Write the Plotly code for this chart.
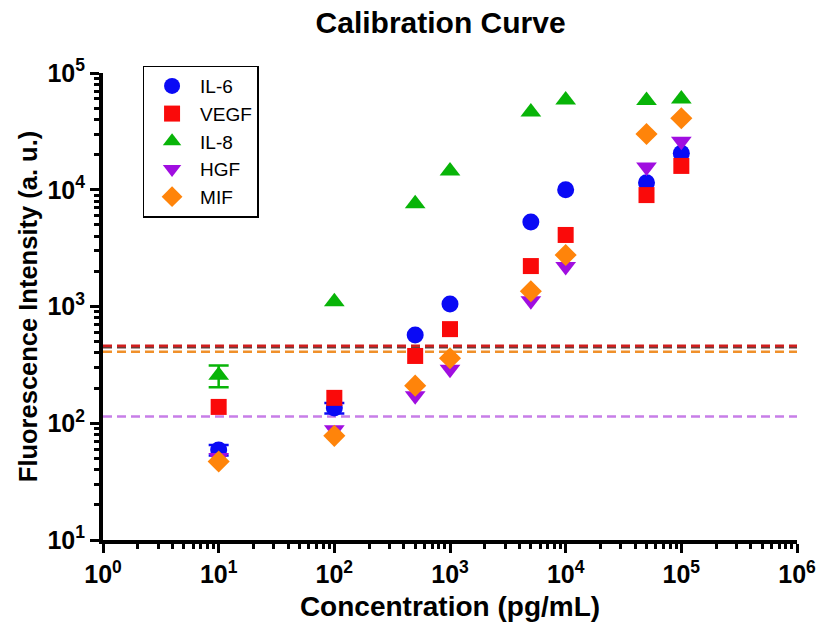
import plotly.graph_objects as go

# ---- data ----
conc = [10, 100, 500, 1000, 5000, 10000, 50000, 100000]
il6 = [59, 135, 570, 1050, 5300, 10000, 11500, 20500]
il6_err = [6, 14, 0, 0, 0, 0, 0, 0]
vegf = [138, 165, 377, 640, 2220, 4100, 9000, 16000]
vegf_err = [0, 0, 0, 0, 0, 0, 0, 0]
il8 = [258, 1100, 7600, 14500, 46300, 58700, 58000, 60000]
il8_err = [55, 0, 0, 0, 0, 0, 0, 0]
hgf = [51, 88, 172, 290, 1120, 2200, 15700, 26000]
hgf_err = [0, 0, 0, 0, 0, 0, 0, 0]
mif = [47, 78, 210, 360, 1350, 2760, 30000, 41000]
mif_err = [0, 0, 0, 0, 0, 0, 0, 0]

lod_names = ["IL-6 LOD", "VEGF LOD", "MIF LOD", "HGF LOD"]
lod_values = [448, 462, 410, 114]
lod_colors = ["#6b3e3a", "#d01e1e", "#f0902a", "#c77ee8"]
x_span = [1, 1e6]

x_tickvals = [1, 10, 100, 1000, 10000, 100000, 1000000]
x_ticktext = ["10<sup>0</sup>", "10<sup>1</sup>", "10<sup>2</sup>", "10<sup>3</sup>",
              "10<sup>4</sup>", "10<sup>5</sup>", "10<sup>6</sup>"]
y_tickvals = [10, 100, 1000, 10000, 100000]
y_ticktext = ["10<sup>1</sup>", "10<sup>2</sup>", "10<sup>3</sup>", "10<sup>4</sup>",
              "10<sup>5</sup>"]

series = [
    ("IL-6", il6, il6_err, "#0a0af5", "circle", 17),
    ("VEGF", vegf, vegf_err, "#fa0a0a", "square", 16),
    ("IL-8", il8, il8_err, "#08b408", "triangle-up", 18),
    ("HGF", hgf, hgf_err, "#a00ee0", "triangle-down", 18),
    ("MIF", mif, mif_err, "#ff840a", "diamond", 17),
]

FONT = "Liberation Sans, Arial"

fig = go.Figure()

for name, val, col in zip(lod_names, lod_values, lod_colors):
    fig.add_trace(go.Scatter(
        x=x_span, y=[val, val], mode="lines", name=name, showlegend=False,
        line=dict(color=col, width=2.5, dash="9px,5px"), hoverinfo="skip"))

for name, vals, errs, col, sym, sz in series:
    idx = [i for i, e in enumerate(errs) if e > 0]
    if idx:
        fig.add_trace(go.Scatter(
            x=[conc[i] for i in idx], y=[vals[i] for i in idx], mode="markers",
            name=name + " error", showlegend=False, hoverinfo="skip",
            marker=dict(color=col, size=1, opacity=0),
            error_y=dict(type="data", array=[errs[i] for i in idx], visible=True,
                         color=col, thickness=2.5, width=10)))
    fig.add_trace(go.Scatter(
        x=conc, y=vals, mode="markers", name=name,
        marker=dict(color=col, symbol=sym, size=sz, line=dict(width=0))))

axis_common = dict(
    type="log", showgrid=False, zeroline=False, automargin=False,
    showline=True, linecolor="black", linewidth=4,
    ticks="outside", ticklen=9, tickwidth=3, tickcolor="black",
    tickfont=dict(family=FONT, size=25, color="black", weight="bold"),
    minor=dict(ticks="outside", ticklen=5, tickwidth=2.5, tickcolor="black",
               dtick="D1", showgrid=False),
)

fig.update_layout(
    width=822, height=630,
    paper_bgcolor="white", plot_bgcolor="white",
    margin=dict(l=103, r=25, t=73, b=90),
    title=dict(text="<b>Calibration Curve</b>", x=0.536, xanchor="center", y=0.965,
               yanchor="middle", font=dict(family=FONT, size=30, color="black")),
    xaxis=dict(axis_common, range=[0, 6], tickmode="array",
               tickvals=x_tickvals, ticktext=x_ticktext,
               title=dict(text="<b>Concentration (pg/mL)</b>", standoff=10,
                          font=dict(family=FONT, size=28, color="black"))),
    yaxis=dict(axis_common, range=[1, 5], tickmode="array",
               tickvals=y_tickvals, ticktext=y_ticktext,
               title=dict(text="<b>Fluorescence Intensity (a. u.)</b>", standoff=4,
                          font=dict(family=FONT, size=25.5, color="black"))),
    legend=dict(x=0.057, y=1.016, xanchor="left", yanchor="top",
                bordercolor="black", borderwidth=1.5, bgcolor="white",
                font=dict(family=FONT, size=19, color="black"),
                itemsizing="trace", itemwidth=46, tracegroupgap=0),
    showlegend=True,
)

fig.write_html("out.html", config={"displayModeBar": False},
               post_script="document.body.style.margin='0';document.body.style.padding='0';")
